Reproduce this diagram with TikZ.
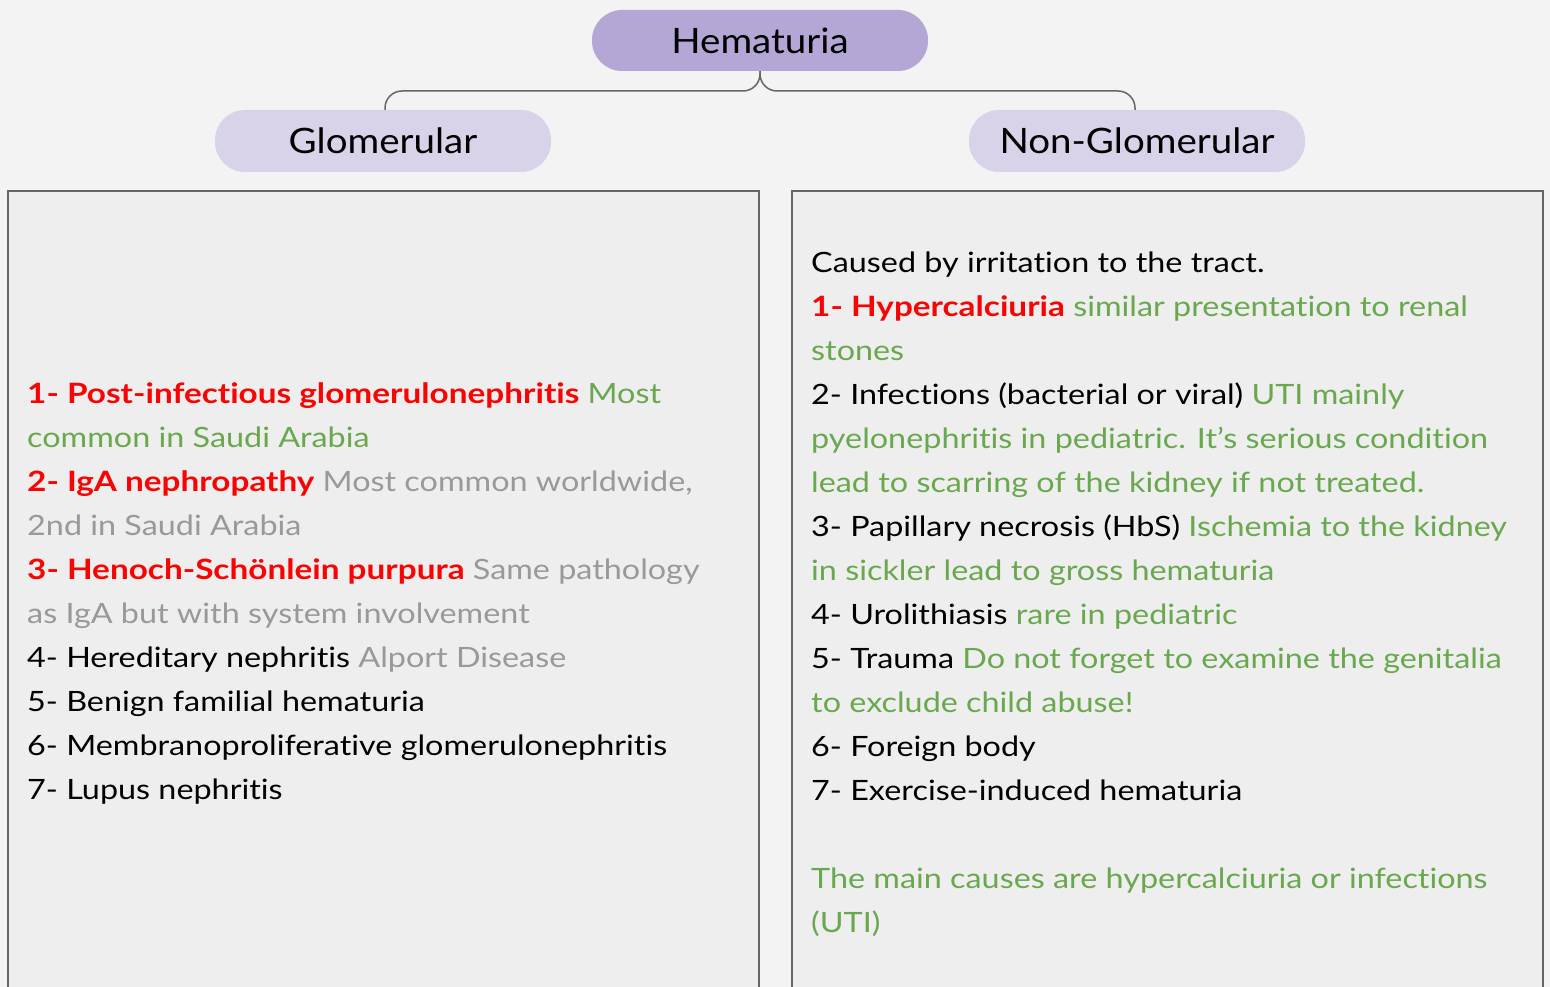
\documentclass[tikz,border=0pt]{standalone}
\usepackage{fontspec}
\setmainfont{Lato}[Ligatures={NoCommon},FakeStretch=1.155,BoldFeatures={FakeStretch=1.19}]
\newfontfamily\pillfont{Lato}[Ligatures={NoCommon},FakeStretch=1.1]
\definecolor{bg}{HTML}{F3F3F3}
\definecolor{boxfill}{HTML}{EEEEEE}
\definecolor{boxline}{HTML}{666666}
\definecolor{hemfill}{HTML}{B4A7D6}
\definecolor{subfill}{HTML}{D9D2E9}
\definecolor{rd}{HTML}{FF0000}
\definecolor{gr}{HTML}{6AA84F}
\definecolor{gy}{HTML}{999999}
\newcommand{\R}[1]{{\color{rd}\bfseries #1}}
\newcommand{\G}[1]{{\color{gr}#1}}
\newcommand{\Y}[1]{{\color{gy}#1}}
\begin{document}
\begin{tikzpicture}[x=1pt,y=-1pt,
  pill/.style={rounded corners=30pt, minimum width=336pt, inner sep=0pt, font=\pillfont\fontsize{35}{40}\selectfont, text=black},
  panel/.style={draw=boxline, line width=1.5pt, fill=boxfill},
  conn/.style={draw=boxline, line width=1.5pt, rounded corners=17pt},
  ln/.style={anchor=base west, inner sep=0pt, font=\fontsize{28}{34}\selectfont, text=black}]
\fill[bg] (0,0) rectangle (1550,987);
\useasboundingbox (0,0) rectangle (1550,987);
\draw[panel] (8,1000) -- (8,191) -- (759,191) -- (759,1000);
\draw[panel] (792,1000) -- (792,191) -- (1543,191) -- (1543,1000);
\node[pill, fill=hemfill, minimum height=61pt] (hem) at (760,40.5) {Hematuria};
\node[pill, fill=subfill, minimum height=62pt] (glo) at (383,141) {Glomerular};
\node[pill, fill=subfill, minimum height=62pt] (non) at (1137,141) {Non-Glomerular};
\coordinate (j) at (760,91);
\draw[conn] (hem.south) -- (j) -| (385,110);
\draw[conn] (hem.south) -- (j) -| (1135,110);
% left column
\node[ln] (g1) at (27,403) {\R{1- Post-infectious glomerulonephritis} \G{Most}};
\node[ln] (g2) at (27,447) {\G{common in Saudi Arabia}};
\node[ln] (g3) at (27,491) {\R{2- IgA nephropathy} \Y{Most common worldwide,}};
\node[ln] (g4) at (27,535) {\Y{2nd in Saudi Arabia}};
\node[ln] (g5) at (27,579) {\R{3- Henoch-Schönlein purpura} \Y{Same pathology}};
\node[ln] (g6) at (27,623) {\Y{as IgA but with system involvement}};
\node[ln] (g7) at (27,667) {4- Hereditary nephritis \Y{Alport Disease}};
\node[ln] (g8) at (27,711) {5- Benign familial hematuria};
\node[ln] (g9) at (27,755) {6- Membranoproliferative glomerulonephritis};
\node[ln] (g10) at (27,799) {7- Lupus nephritis};
% right column
\node[ln] (n1) at (811,272) {Caused by irritation to the tract.};
\node[ln] (n2) at (811,316) {\R{1- Hypercalciuria} \G{similar presentation to renal}};
\node[ln] (n3) at (811,360) {\G{stones}};
\node[ln] (n4) at (811,404) {2- Infections (bacterial or viral) \G{UTI mainly}};
\node[ln] (n5) at (811,448) {\G{pyelonephritis in pediatric. It’s serious condition}};
\node[ln] (n6) at (811,492) {\G{lead to scarring of the kidney if not treated.}};
\node[ln] (n7) at (811,536) {3- Papillary necrosis (HbS) \G{Ischemia to the kidney}};
\node[ln] (n8) at (811,580) {\G{in sickler lead to gross hematuria}};
\node[ln] (n9) at (811,624) {4- Urolithiasis \G{rare in pediatric}};
\node[ln] (n10) at (811,668) {5- Trauma \G{Do not forget to examine the genitalia}};
\node[ln] (n11) at (811,712) {\G{to exclude child abuse!}};
\node[ln] (n12) at (811,756) {6- Foreign body};
\node[ln] (n13) at (811,800) {7- Exercise-induced hematuria};
\node[ln] (n14) at (811,888) {\G{The main causes are hypercalciuria or infections}};
\node[ln] (n15) at (811,932) {\G{(UTI)}};
\end{tikzpicture}
\end{document}
